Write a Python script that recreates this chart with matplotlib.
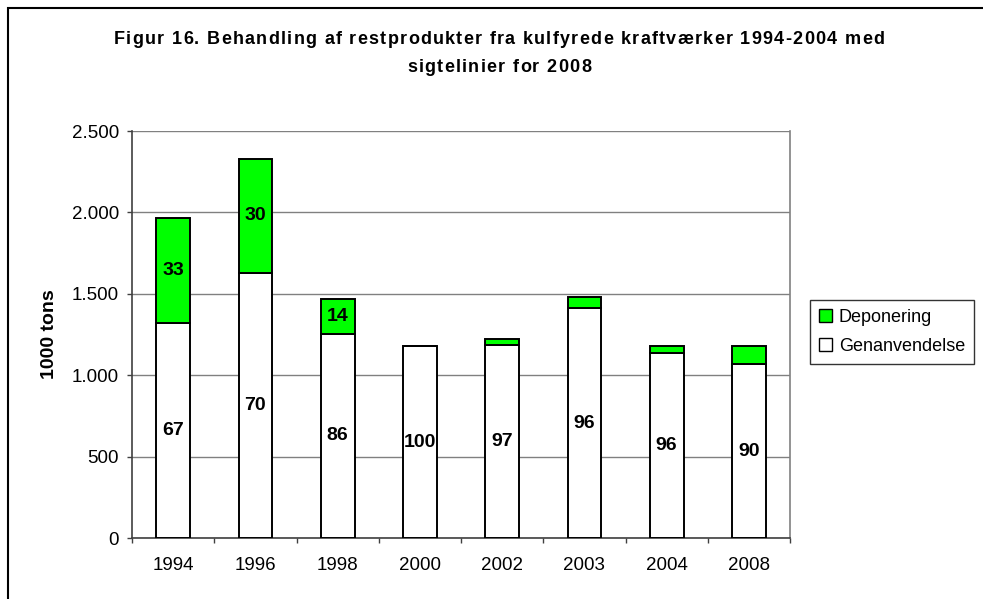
import matplotlib.pyplot as plt
from matplotlib.patches import Patch, Rectangle
from matplotlib.ticker import FuncFormatter
from matplotlib.font_manager import FontProperties
import numpy as np

years = ['1994', '1996', '1998', '2000', '2002', '2003', '2004', '2008']
genanvendelse = [1322, 1630, 1255, 1179, 1188, 1411, 1134, 1069]
deponering = [642, 698, 213, 0, 34, 69, 45, 110]
gen_pct = ['67', '70', '86', '100', '97', '96', '96', '90']
dep_pct = ['33', '30', '14', '', '', '', '', '']
title_lines = ['Figur 16. Behandling af restprodukter fra kulfyrede kraftværker 1994-2004 med',
               'sigtelinier for 2008']

plt.rcParams['font.family'] = ['Liberation Sans', 'DejaVu Sans']

fig = plt.figure(figsize=(9.83, 5.99), dpi=100)
ax = fig.add_axes([0.1343, 0.1018, 0.6694, 0.6795])

x = np.arange(len(years))
w = 0.41
ax.bar(x, genanvendelse, w, color='white', edgecolor='black', linewidth=1.4, zorder=3)
ax.bar(x, deponering, w, bottom=genanvendelse, color='#00ff00', edgecolor='black', linewidth=1.4, zorder=3)

for i in range(len(years)):
    ax.text(x[i], genanvendelse[i] / 2, gen_pct[i], ha='center', va='center',
            fontsize=14, fontweight='bold', zorder=4)
    if dep_pct[i]:
        ax.text(x[i], genanvendelse[i] + deponering[i] / 2, dep_pct[i], ha='center', va='center',
                fontsize=14, fontweight='bold', zorder=4)

ax.set_xlim(-0.5, len(years) - 0.5)
ax.set_ylim(0, 2500)
ax.set_yticks([0, 500, 1000, 1500, 2000, 2500])
ax.yaxis.set_major_formatter(FuncFormatter(lambda v, p: f'{int(v):,}'.replace(',', '.')))
ax.set_xticks(x)
ax.set_xticklabels(years)
ax.set_xticks(np.arange(-0.5, len(years)), minor=True)
ax.tick_params(axis='x', which='major', length=0, labelsize=13.5, pad=14)
ax.tick_params(axis='x', which='minor', length=3.5, width=1, color='#404040', direction='out')
ax.tick_params(axis='y', length=3.5, width=1, color='#404040', labelsize=13.5, pad=6)
ax.grid(axis='y', color='#808080', linewidth=1, zorder=0)

ax.spines['top'].set_visible(False)
ax.spines['right'].set_color('#808080')
ax.spines['left'].set_color('#404040')
ax.spines['bottom'].set_color('#404040')
for s in ax.spines.values():
    s.set_linewidth(1.2)

ax.set_ylabel('1000 tons', fontsize=14, fontweight='bold', labelpad=10)

# title with Excel-like letter spacing, drawn char by char
fp = FontProperties(family='Liberation Sans', weight='bold', size=13)
renderer = fig.canvas.get_renderer()
track = 1.3
for line, ypix in zip(title_lines, [39, 67]):
    widths = [renderer.get_text_width_height_descent(c, fp, ismath=False)[0] for c in line]
    total = sum(widths) + track * (len(line) - 1)
    xp = 499 - total / 2
    for c, cw in zip(line, widths):
        fig.text(xp / 983, 1 - ypix / 599, c, fontproperties=fp, ha='left', va='center')
        xp += cw + track

handles = [Patch(facecolor='#00ff00', edgecolor='black', label='Deponering'),
           Patch(facecolor='white', edgecolor='black', label='Genanvendelse')]
leg = fig.legend(handles=handles, loc='upper left', bbox_to_anchor=(810 / 983, 1 - 300 / 599),
                 fontsize=13, frameon=True, fancybox=False, handlelength=0.7, handleheight=0.7,
                 handletextpad=0.4, borderpad=0.5, labelspacing=0.65, borderaxespad=0)
leg.get_frame().set_edgecolor('black')
leg.get_frame().set_linewidth(1)

fig.patches.append(Rectangle((8 / 983, -0.05), 1.0, 1 - 8 / 599 + 0.05, transform=fig.transFigure,
                             fill=False, edgecolor='black', linewidth=1.5))

fig.savefig('out.png', dpi=100)
